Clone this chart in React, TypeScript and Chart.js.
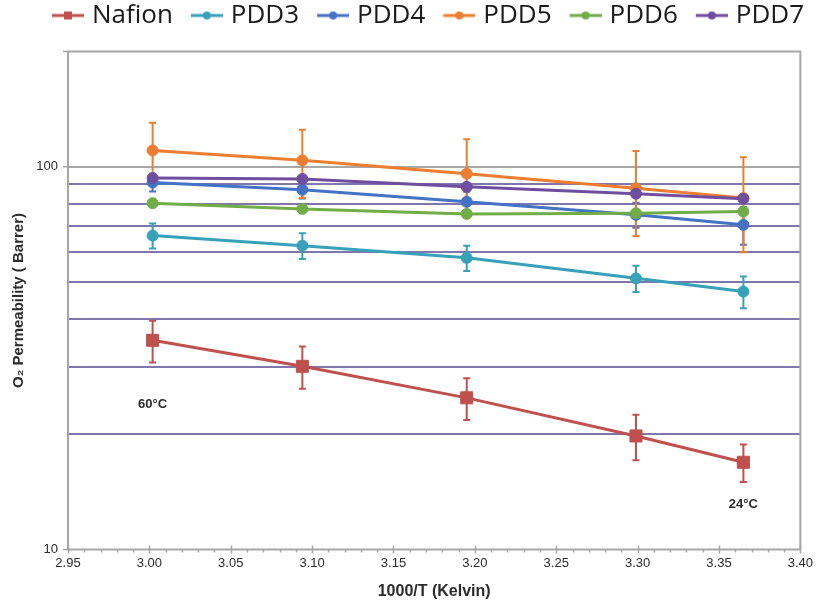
import React, { useEffect, useRef } from 'react';
import { Chart, registerables } from 'chart.js';

Chart.register(...registerables);

// ---------- data ----------
const SERIES_NAMES = ['Nafion', 'PDD3', 'PDD4', 'PDD5', 'PDD6', 'PDD7'];
const X_VALUES = [3.002, 3.094, 3.195, 3.299, 3.365]; // 1000/T for 60, 50, 40, 30, 24 °C

const NAFION = [35.2, 30.1, 24.9, 19.8, 16.9];
const PDD3 = [66.1, 62.2, 57.8, 51.1, 47.2];
const PDD4 = [91.0, 87.1, 81.0, 74.9, 70.5];
const PDD5 = [110.3, 103.9, 95.9, 87.9, 82.8];
const PDD6 = [80.3, 77.6, 75.3, 75.6, 76.4];
const PDD7 = [93.4, 92.9, 88.6, 85.0, 82.5];

const NAFION_ERR = [4.4, 3.8, 3.1, 2.7, 1.9];
const PDD3_ERR = [5.0, 4.8, 4.4, 4.0, 4.5];
const PDD4_ERR = [4.8, 4.5, 5.0, 5.6, 8.0];
const PDD5_ERR = [20, 21, 22, 22, 23];

const SERIES_VALUES = [NAFION, PDD3, PDD4, PDD5, PDD6, PDD7];
const SERIES_ERRORS: (number[] | null)[] = [NAFION_ERR, PDD3_ERR, PDD4_ERR, PDD5_ERR, null, null];

const X_TICKS = [2.95, 3.0, 3.05, 3.1, 3.15, 3.2, 3.25, 3.3, 3.35, 3.4];
const X_MINOR_STEP = 0.01;
const Y_TICKS = [10, 20, 30, 40, 50, 60, 70, 80, 90, 100, 200];
const Y_LABELED = [10, 100];

const ANNOTATIONS = [
  { text: '60°C', x: 3.002, y: 24.0 },
  { text: '24°C', x: 3.365, y: 13.1 },
];

// ---------- styles ----------
const COLORS = ['#C0504D', '#36A1B8', '#4472C4', '#ED7D31', '#70AD47', '#6F4D9F'];
const GRID_MINOR = '#7F77AC';
const GRID_MAJOR = '#A8A8A8';
const FRAME = '#A6A6A6';
const TEXT = '#2b2b2b';
const LEGEND_EXTRA = 10.5;
const LEGEND_SHIFT_X = 24;
const LEGEND_SHIFT_Y = -2.5;

function makeIcon(color: string, square: boolean) {
  const c = document.createElement('canvas');
  c.width = 42;
  c.height = 16;
  const g = c.getContext('2d')!;
  g.strokeStyle = color;
  g.fillStyle = color;
  g.lineWidth = 3;
  g.beginPath();
  g.moveTo(10, 8);
  g.lineTo(42, 8);
  g.stroke();
  if (square) {
    g.fillRect(26 - 4, 8 - 4, 8, 8);
  } else {
    g.beginPath();
    g.arc(26, 8, 4, 0, Math.PI * 2);
    g.fill();
  }
  return c;
}

const layoutPlugin = {
  id: 'layoutTweaks',
  beforeInit(chart: any) {
    const legend = chart.legend;
    if (legend) {
      const orig = legend.fit;
      legend.fit = function () {
        orig.call(this);
        this.height += LEGEND_EXTRA;
      };
    }
  },
  afterLayout(chart: any) {
    if (chart.legend) {
      chart.legend.left += LEGEND_SHIFT_X;
      chart.legend.right += LEGEND_SHIFT_X;
      chart.legend.top += LEGEND_SHIFT_Y;
      chart.legend.bottom += LEGEND_SHIFT_Y;
    }
  },
};

const framePlugin = {
  id: 'frameAndErrors',
  beforeDatasetsDraw(chart: any) {
    const { ctx, chartArea } = chart;
    const { left, right, top, bottom } = chartArea;
    const xs = chart.scales.x;
    const ys = chart.scales.y;
    ctx.save();
    // frame
    ctx.strokeStyle = FRAME;
    ctx.lineWidth = 2;
    ctx.strokeRect(left, top, right - left, bottom - top);
    // x ticks
    ctx.lineWidth = 1.5;
    const first = X_TICKS[0];
    const last = X_TICKS[X_TICKS.length - 1];
    const n = Math.round((last - first) / X_MINOR_STEP);
    for (let i = 0; i <= n; i++) {
      const v = first + i * X_MINOR_STEP;
      const px = Math.round(xs.getPixelForValue(v)) + 0.5;
      const major = i % 5 === 0;
      ctx.beginPath();
      ctx.moveTo(px, major ? bottom - 4 : bottom);
      ctx.lineTo(px, major ? bottom + 4 : bottom + 3);
      ctx.stroke();
    }
    // y ticks
    [...Y_LABELED, Y_TICKS[Y_TICKS.length - 1]].forEach((v) => {
      const py = ys.getPixelForValue(v);
      ctx.beginPath();
      ctx.moveTo(left - 5, py);
      ctx.lineTo(left, py);
      ctx.stroke();
    });
    // error bars
    chart.data.datasets.forEach((ds: any, i: number) => {
      const errs = SERIES_ERRORS[i];
      if (!errs) return;
      const meta = chart.getDatasetMeta(i);
      ctx.strokeStyle = COLORS[i];
      ctx.lineWidth = 2;
      meta.data.forEach((pt: any, j: number) => {
        const v = SERIES_VALUES[i][j];
        const y1 = ys.getPixelForValue(v + errs[j]);
        const y2 = ys.getPixelForValue(v - errs[j]);
        const x = pt.x;
        ctx.beginPath();
        ctx.moveTo(x, y1);
        ctx.lineTo(x, y2);
        ctx.moveTo(x - 3.5, y1);
        ctx.lineTo(x + 3.5, y1);
        ctx.moveTo(x - 3.5, y2);
        ctx.lineTo(x + 3.5, y2);
        ctx.stroke();
      });
    });
    ctx.restore();
  },
  afterDatasetsDraw(chart: any) {
    const { ctx } = chart;
    const xs = chart.scales.x;
    const ys = chart.scales.y;
    ctx.save();
    ctx.fillStyle = TEXT;
    ctx.font = 'bold 13px "Liberation Sans", Arial, sans-serif';
    ctx.textAlign = 'center';
    ctx.textBaseline = 'middle';
    ANNOTATIONS.forEach((a) => {
      ctx.fillText(a.text, xs.getPixelForValue(a.x), ys.getPixelForValue(a.y));
    });
    ctx.restore();
  },
};

export default function App() {
  const ref = useRef<HTMLCanvasElement>(null);

  useEffect(() => {
    const canvas = ref.current!;
    const icons = SERIES_NAMES.map((_, i) => makeIcon(COLORS[i], i === 0));
    const datasets = SERIES_VALUES.map((vals, i) => ({
      label: SERIES_NAMES[i],
      data: vals.map((v, j) => ({ x: X_VALUES[j], y: v })),
      borderColor: COLORS[i],
      backgroundColor: COLORS[i],
      pointBackgroundColor: COLORS[i],
      pointBorderColor: COLORS[i],
      pointStyle: i === 0 ? 'rect' : 'circle',
      pointRadius: i === 0 ? 8.5 : 5.5,
      pointBorderWidth: 1,
      borderWidth: 3,
      tension: 0,
      order: SERIES_NAMES.length - i,
    }));

    const tickFont = { family: '"Liberation Sans", Arial, sans-serif', size: 13 };
    const titleFont = { family: '"Liberation Sans", "DejaVu Sans", Arial, sans-serif', size: 15, weight: 'bold' as const };

    const chart = new Chart(canvas, {
      type: 'line',
      data: { datasets: datasets as any },
      options: {
        responsive: false,
        animation: false,
        events: [],
        layout: { padding: { top: 0, right: 16, bottom: 0, left: 0 } },
        plugins: {
          tooltip: { enabled: false },
          legend: {
            position: 'top',
            align: 'center',
            labels: {
              usePointStyle: true,
              pointStyleWidth: 32,
              boxHeight: 26,
              padding: 13,
              color: '#1a1a1a',
              font: { family: '"Open Sans", "Noto Sans", sans-serif', size: 26 },
              sort: (a: any, b: any) => a.datasetIndex - b.datasetIndex,
              generateLabels: (ch: any) => {
                const items = (Chart.defaults.plugins.legend.labels as any).generateLabels(ch);
                return items.map((it: any) => ({ ...it, pointStyle: icons[it.datasetIndex] }));
              },
            },
          },
        },
        scales: {
          x: {
            type: 'linear',
            min: X_TICKS[0],
            max: X_TICKS[X_TICKS.length - 1],
            afterBuildTicks: (scale: any) => {
              scale.ticks = X_TICKS.map((v) => ({ value: v }));
            },
            afterFit: (scale: any) => {
              scale.height = 56.5;
            },
            grid: { display: false, drawTicks: false },
            border: { display: false },
            ticks: {
              padding: 6,
              color: TEXT,
              font: tickFont,
              maxRotation: 0,
              autoSkip: false,
              callback: (v: any) => Number(v).toFixed(2),
            },
            title: {
              display: true,
              text: '1000/T (Kelvin)',
              color: TEXT,
              font: { ...titleFont, size: 16 },
              padding: { top: 0, bottom: 5 },
            },
          },
          y: {
            type: 'logarithmic',
            min: Y_TICKS[0],
            max: Y_TICKS[Y_TICKS.length - 1],
            afterBuildTicks: (scale: any) => {
              scale.ticks = Y_TICKS.map((v) => ({ value: v }));
            },
            afterFit: (scale: any) => {
              scale.width = 68;
            },
            grid: {
              drawTicks: false,
              lineWidth: 2,
              color: (c: any) => {
                const v = c.tick && c.tick.value;
                if (v === Y_TICKS[0] || v === Y_TICKS[Y_TICKS.length - 1]) return 'rgba(0,0,0,0)';
                return v === 100 ? GRID_MAJOR : GRID_MINOR;
              },
            },
            border: { display: false },
            ticks: {
              padding: 10,
              color: TEXT,
              font: tickFont,
              autoSkip: false,
              callback: (v: any) => (Y_LABELED.includes(Number(v)) ? String(v) : ''),
            },
            title: {
              display: true,
              text: 'O₂ Permeability ( Barrer)',
              color: TEXT,
              font: titleFont,
              padding: { top: 10, bottom: 0 },
            },
          },
        },
      },
      plugins: [layoutPlugin, framePlugin],
    } as any);

    return () => chart.destroy();
  }, []);

  return (
    <div style={{ position: 'absolute', left: 0, top: -8, width: 819, height: 614, background: '#fff' }}>
      <canvas ref={ref} width={819} height={614} />
    </div>
  );
}
